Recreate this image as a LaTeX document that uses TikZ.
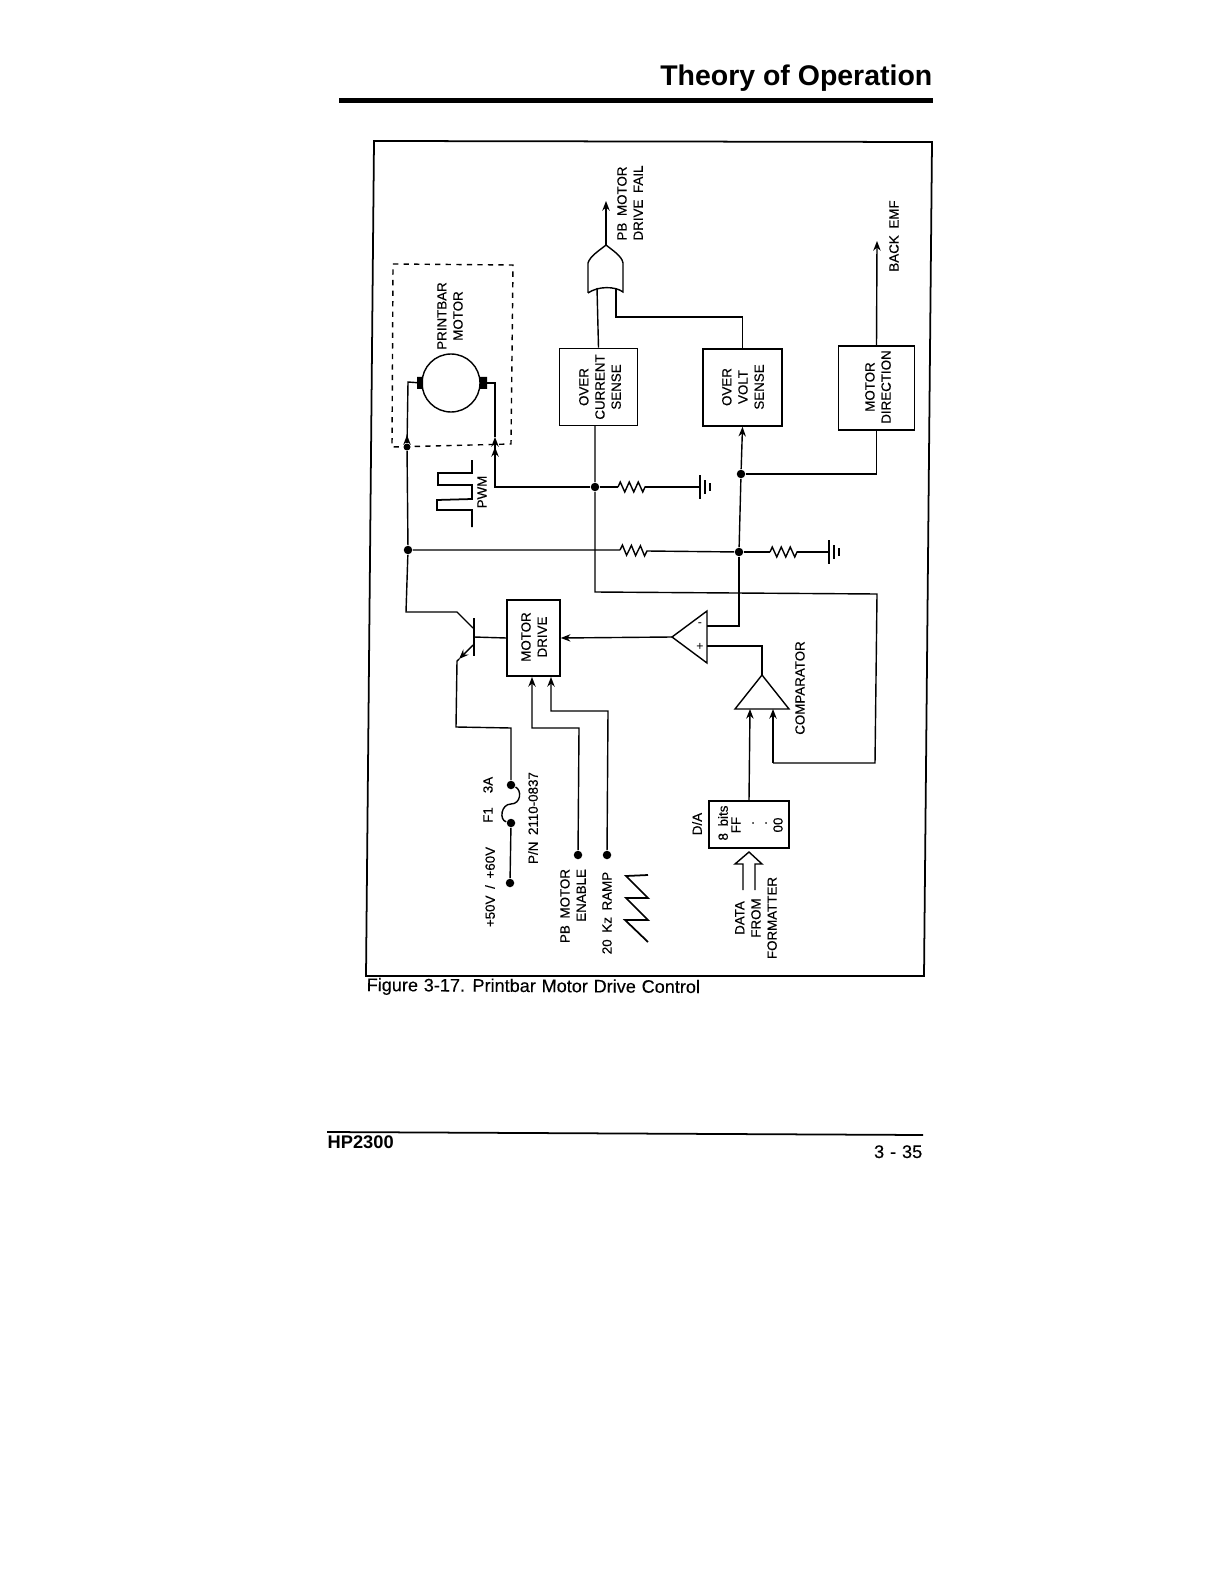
\documentclass[tikz,border=0pt]{standalone}
\usepackage{fontspec}
\setmainfont{Liberation Sans}
\newfontfamily\lblfont[WordSpace=1.8,FakeBold=0.35]{Liberation Sans}
\newfontfamily\capfont[WordSpace=1.15,FakeBold=0.2]{Liberation Sans}
\usetikzlibrary{arrows.meta,decorations.pathmorphing}
\tikzset{
lbl/.style={rotate=90,inner sep=0pt,align=center,font=\lblfont\fontsize{7.6}{9.2}\selectfont},
blk/.style={draw,line width=.9pt,inner sep=0pt},
jdot/.style={shape=circle,fill=black,inner sep=0pt,minimum size=.17cm},
reswave/.style={decorate,decoration={zigzag,segment length=.18cm,amplitude=.1cm}},
gndbars/.pic={\draw[line width=1pt](0,-12)--(0,12)(5,-7)--(5,7);\draw[line width=.7pt](10,-4)--(10,4);},
}
\begin{document}
\begin{tikzpicture}[x=.02cm,y=-.02cm,>={Stealth[length=5.5pt,width=4.2pt]},line width=.8pt]
\useasboundingbox (0,0) rectangle (1224,1584);
% page furniture
\node[inner sep=0pt,anchor=base east,font=\fontsize{16.2}{18}\bfseries\selectfont] (title) at (933,86) {Theory of Operation};
\fill (339,98) rectangle (933,103);
\draw[line width=1pt] (374,141)--(932,142)--(924,976)--(366,976)--cycle;
\node[inner sep=0pt,anchor=base west,rotate=-.35,font=\capfont\fontsize{10.3}{12}\selectfont] (caption) at (366,991) {Figure 3-17. Printbar Motor Drive Control};
\draw[line width=1pt] (327,1132)--(923,1135);
\node[inner sep=0pt,anchor=base west,font=\fontsize{10.4}{12}\bfseries\selectfont] (hp) at (327,1148) {HP2300};
\node[inner sep=0pt,anchor=base east,font=\capfont\fontsize{10.4}{12}\selectfont] (pageno) at (923,1158) {3 - 35};
% boxes
\node[blk,minimum width=1.56cm,minimum height=1.54cm] (ocs) at (598.5,387) {};
\node[blk,minimum width=1.58cm,minimum height=1.54cm] (ovs) at (742.5,387.5) {};
\node[blk,minimum width=1.52cm,minimum height=1.68cm] (mdir) at (876.5,388) {};
\node[blk,minimum width=1.06cm,minimum height=1.52cm] (mdrive) at (533.5,638) {};
\node[blk,minimum width=1.6cm,minimum height=.94cm] (da) at (749,824.5) {};
\node[lbl] (ocst) at (600,387) {OVER\\CURRENT\\SENSE};
\node[lbl] (ovst) at (743,387) {OVER\\VOLT\\SENSE};
\node[lbl] (mdirt) at (878,387) {MOTOR\\DIRECTION};
\node[lbl] (mdrivet) at (534,637) {MOTOR\\DRIVE};
% labels
\node[lbl,align=left] (failt) at (630,203) {PB MOTOR\\DRIVE FAIL};
\node[lbl] (pbm) at (450,316) {PRINTBAR\\MOTOR};
\node[lbl] (emf) at (894,236) {BACK EMF};
\node[lbl] (pwm) at (482,492) {PWM};
\node[lbl] (f1) at (488,815) {F1};
\node[lbl] (a3) at (488,785) {3A};
\node[lbl] (volt) at (490,887) {+50V / +60V};
\node[lbl] (pn) at (533,818) {P/N 2110-0837};
\node[lbl,align=right] (ena) at (573,906) {PB MOTOR\\ENABLE};
\node[lbl] (ramp) at (607,913) {20 Kz RAMP};
\node[lbl] (cmpt) at (800,688) {COMPARATOR};
\node[lbl] (dat) at (697,824) {D/A};
\node[lbl] (bits) at (723,823) {8 bits};
\node[lbl] (ff) at (736,825) {FF};
\node[lbl] (dota) at (753,823) {.};
\node[lbl] (dotb) at (766,823) {.};
\node[lbl] (zz) at (778,825) {00};
\node[lbl] (fromt) at (756,918) {DATA\\FROM\\FORMATTER};
\node[inner sep=0pt,font=\fontsize{7}{8}\selectfont] (minus) at (700,625) {-};
\node[inner sep=0pt,font=\fontsize{7}{8}\selectfont] (plus) at (700,647) {+};
% motor
\draw[dashed,dash pattern=on 3pt off 3pt] (393,264)--(513,265)--(511,444)--(392,447)--cycle;
\node[draw,shape=circle,line width=.8pt,minimum size=1.16cm,inner sep=0pt] (motor) at (451,383) {};
\fill (417,377) rectangle (423,389) (480,377) rectangle (487,389);
% junctions
\node[jdot] (jpwr) at (408,550) {};
\node[jdot] (jcur) at (595,487) {};
\node[jdot] (jvolt) at (741,474) {};
\node[jdot] (jmid) at (739,552) {};
\node[jdot,minimum size=.14cm] (jm) at (407,447) {};
\node[jdot] (fa) at (511,785) {};
\node[jdot] (fb) at (511,823) {};
\node[jdot] (vin) at (510,883) {};
\node[jdot] (pbe) at (578,855) {};
\node[jdot] (rmp) at (607,855) {};
% wires to the motor
\draw (motor.west)--(408,382)--(jm);
\draw[->] (jm)--(407,435);
\draw (jm)--(jpwr);
\draw (motor.east)--(495,383)--(495,437);
\draw[->] (495,460)--(495,437);
\draw[->] (jcur)-|(495,447);
% resistors and grounds
\coordinate (ra) at (618,487); \coordinate (rb) at (645,487);
\coordinate (rc) at (620,550); \coordinate (rd) at (647,551);
\coordinate (re) at (770,552); \coordinate (rf) at (797,552);
\coordinate (ga) at (700,487); \coordinate (gb) at (829,552);
\draw (jcur)--(ra) (rb)--(ga);
\draw (jpwr)--(rc) (rd)--(jmid);
\draw (jmid)--(re) (rf)--(gb);
\draw[reswave] (ra)--(rb);
\draw[reswave] (rc)--(rd);
\draw[reswave] (re)--(rf);
\pic (gnda) at (ga) {gndbars};
\pic (gndb) at (gb) {gndbars};
% sense lines and OR gate
\coordinate (ora) at (597,288); \coordinate (orb) at (616,288); \coordinate (orout) at (606,245);
\draw (588,293)--(588,263) .. controls (590,256) and (600,250) .. (orout) .. controls (612,250) and (622,256) .. (623,263)--(623,292) .. controls (615,286) and (598,286) .. (588,293);
\draw (ocs.north)--(ora);
\draw (ovs.north)|-(616,317)--(orb);
\draw[->] (orout)--(606,201);
\draw[->] (mdir.north)--(877,241);
\draw (mdir.south)|-(jvolt);
\draw[->] (jvolt)--(ovs.south);
\draw (jvolt)--(jmid);
% op amp and comparator
\coordinate (opout) at (672,637); \coordinate (opm) at (707,626); \coordinate (opp) at (707,646);
\coordinate (cmpout) at (762,675); \coordinate (cmpa) at (750,709); \coordinate (cmpb) at (773,709);
\draw (opout)--(707,611)--(707,663)--cycle;
\draw (cmpout)--(735,709)--(789,709)--cycle;
\draw[->] (opout)--(mdrive.east);
\draw (jmid)|-(opm);
\draw (opp)-|(cmpout);
\draw (595,425)--(jcur)--(595,592)--(877,594)--(875,763)--(773,763);
\draw[->] (773,763)--(cmpb);
\draw[->] (da.north)--(cmpa);
% hollow data arrow
\draw (743,890)--(743,864)--(735,864)--(749,852)--(762,864)--(755,864)--(755,890);
% transistor
\coordinate (qb) at (474,637);
\draw[line width=1.6pt] (474,618)--(474,656);
\draw (mdrive.west)--(qb);
\draw (jpwr)--(406,612)--(457,612)--(473,628);
\draw[->] (473,645)--(459,659);
\draw (459,659)--(457,661)--(456,727)--(511,728)--(fa);
% fuse and other inputs
\draw (fa) .. controls (522,790) and (521,804) .. (511,804) .. controls (501,804) and (499,820) .. (fb);
\draw (fb)--(vin);
\draw[->] (pbe)--(579,728)--(532,728)--(532,677);
\draw[->] (rmp)--(608,711)--(551,711)--(551,677);
% PWM and ramp waveforms
\draw[line width=1pt] (472,460)--(472,473)--(438,473)--(438,485)--(472,485)--(472,499)--(437,500)--(437,510)--(472,510)--(472,527);
\draw[line width=1pt] (648,875)--(626,876)--(648,898)--(626,898)--(648,920)--(625,920)--(648,942);
\end{tikzpicture}
\end{document}
